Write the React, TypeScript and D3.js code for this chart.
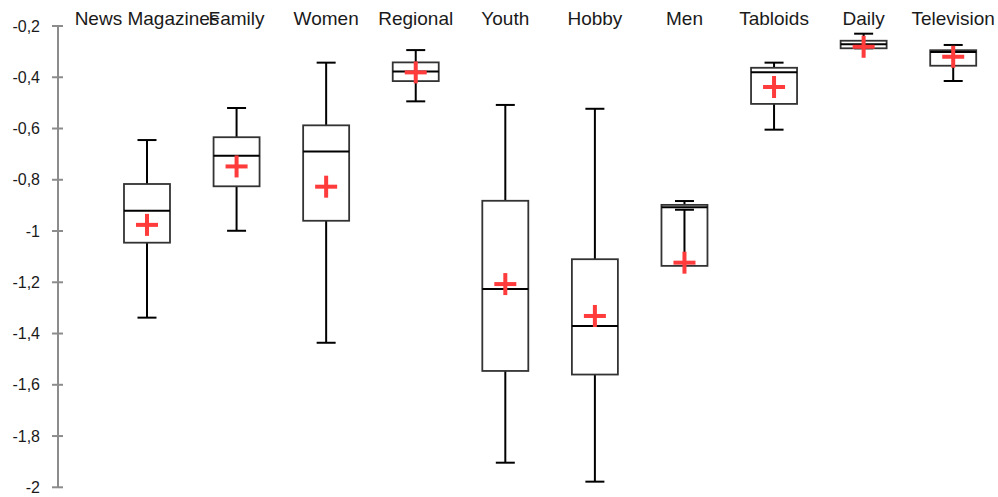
import React from "react";
import * as d3 from "d3";

const categories = ["News Magazines", "Family", "Women", "Regional", "Youth", "Hobby", "Men", "Tabloids", "Daily", "Television"];
const maxValues = [-0.645, -0.52, -0.343, -0.294, -0.508, -0.523, -0.883, -0.343, -0.23, -0.274];
const q3Values = [-0.8165, -0.634, -0.5876, -0.342, -0.882, -1.11, -0.898, -0.363, -0.2575, -0.2945];
const medianValues = [-0.9206, -0.706, -0.69, -0.378, -1.226, -1.3705, -0.907, -0.38, -0.271, -0.301];
const meanValues = [-0.976, -0.748, -0.827, -0.381, -1.207, -1.3315, -1.1235, -0.438, -0.281, -0.32];
const q1Values = [-1.0455, -0.8255, -0.96, -0.415, -1.546, -1.56, -1.136, -0.504, -0.287, -0.355];
const minValues = [-1.338, -0.999, -1.436, -0.494, -1.904, -1.978, -0.917, -0.6045, -0.287, -0.4146];
const yTicks = [-0.2, -0.4, -0.6, -0.8, -1, -1.2, -1.4, -1.6, -1.8, -2];

const W = 998;
const H = 497;

export default function App() {
  const y = d3.scaleLinear().domain([-2, -0.2]).range([487.3, 26]);
  const x = d3.scaleBand<string>().domain(categories).range([102.2, 998]).paddingInner(0).paddingOuter(0);
  const bw = x.bandwidth();
  const boxW = 46;
  const capW = 19;
  const crossW = 22;
  const crossT = 4;
  const fmt = (v: number) => String(+v.toFixed(1)).replace(".", ",");
  const axisX = 58;

  return (
    <svg width={W} height={H} style={{ position: "absolute", left: 0, top: 0, display: "block" }}
      fontFamily="'Liberation Sans', Arial, sans-serif">
      <rect x={0} y={0} width={W} height={H} fill="#fff" />
      {/* axis */}
      <line x1={axisX} x2={axisX} y1={y(-0.2)} y2={y(-2)} stroke="#8c8c8c" strokeWidth={2} />
      {yTicks.map((t) => (
        <g key={t}>
          <line x1={axisX - 6} x2={axisX + 5} y1={y(t)} y2={y(t)} stroke="#8c8c8c" strokeWidth={2} />
          <text x={40} y={y(t)} textAnchor="end" dominantBaseline="central" fontSize={16} fill="#1a1a1a">
            {fmt(t)}
          </text>
        </g>
      ))}
      {categories.map((c, i) => {
        const cx = (x(c) as number) + bw / 2;
        const yMax = y(maxValues[i]);
        const yQ3 = y(q3Values[i]);
        const yMed = y(medianValues[i]);
        const yQ1 = y(q1Values[i]);
        const yMin = y(minValues[i]);
        const yMean = y(meanValues[i]);
        return (
          <g key={c}>
            <text x={cx} y={25} textAnchor="middle" fontSize={19} fill="#1a1a1a">{c}</text>
            {/* whiskers */}
            <line x1={cx} x2={cx} y1={yQ3} y2={yMax} stroke="#000" strokeWidth={2} />
            <line x1={cx - capW / 2} x2={cx + capW / 2} y1={yMax} y2={yMax} stroke="#000" strokeWidth={2} />
            <line x1={cx} x2={cx} y1={yQ1} y2={yMin} stroke="#000" strokeWidth={2} />
            <line x1={cx - capW / 2} x2={cx + capW / 2} y1={yMin} y2={yMin} stroke="#000" strokeWidth={2} />
            {/* box */}
            <rect x={cx - boxW / 2} y={yQ3} width={boxW} height={yQ1 - yQ3} fill="none" stroke="#333" strokeWidth={1.8} />
            <line x1={cx - boxW / 2} x2={cx + boxW / 2} y1={yMed} y2={yMed} stroke="#000" strokeWidth={2} />
            {/* mean cross */}
            <rect x={cx - crossW / 2} y={yMean - crossT / 2} width={crossW} height={crossT} fill="#ff3b3b" />
            <rect x={cx - crossT / 2} y={yMean - crossW / 2} width={crossT} height={crossW} fill="#ff3b3b" />
          </g>
        );
      })}
    </svg>
  );
}
